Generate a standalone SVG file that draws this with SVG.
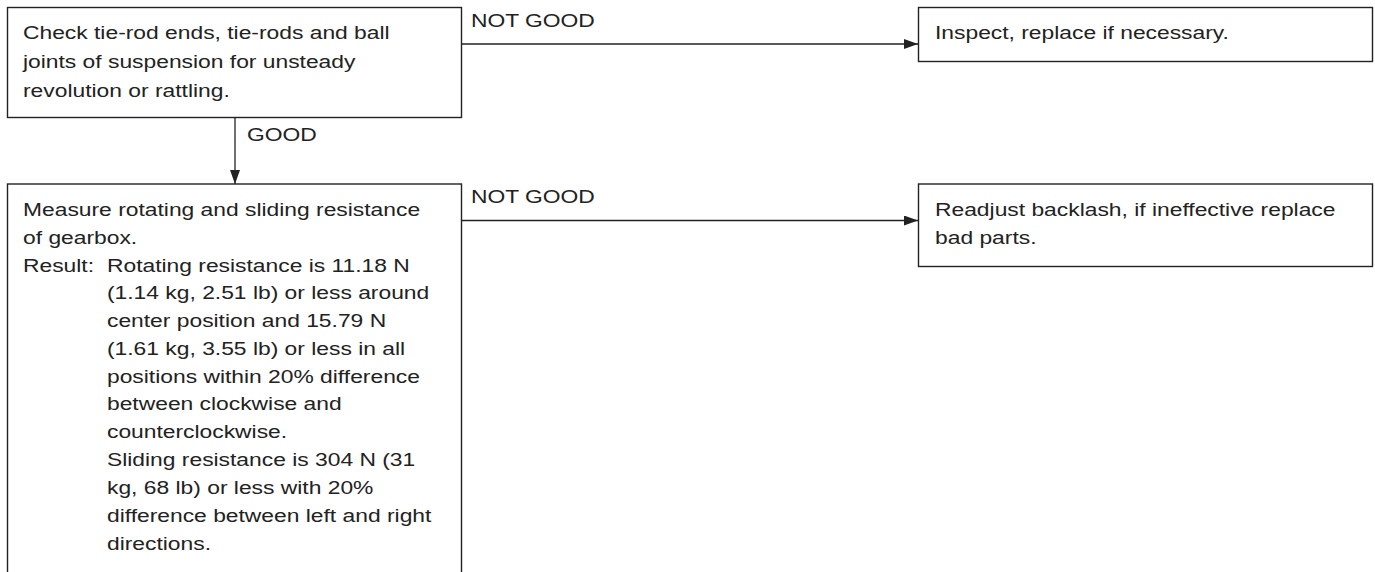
<svg xmlns="http://www.w3.org/2000/svg" width="1375" height="572" viewBox="0 0 1375 572">
<style>
.box{fill:#fff;stroke:#222;stroke-width:1.4}
.t{font-family:"Liberation Sans",Arial,sans-serif;font-size:18.5px;fill:#222}
.c{stroke:#222;stroke-width:1.3;fill:none}
</style>
<defs>
<marker id="ah" markerWidth="14" markerHeight="10" refX="14" refY="5" orient="auto" markerUnits="userSpaceOnUse">
<path d="M0,0 L14,5 L0,10 Z" fill="#222"/>
</marker>
</defs>
<rect width="1375" height="572" fill="#fff"/>
<g id="n1">
<rect class="box" x="7.5" y="7.5" width="454" height="110"/>
<g transform="translate(23 0) scale(1.235 1)">
<text class="t" x="0" y="39">Check tie-rod ends, tie-rods and ball</text>
<text class="t" x="0" y="68">joints of suspension for unsteady</text>
<text class="t" x="0" y="97">revolution or rattling.</text>
</g>
</g>
<g id="n2">
<rect class="box" x="918.5" y="7.5" width="454" height="54"/>
<g transform="translate(935 0) scale(1.235 1)">
<text class="t" x="0" y="39">Inspect, replace if necessary.</text>
</g>
</g>
<g id="n3">
<rect class="box" x="7.5" y="184" width="454" height="400"/>
<g transform="translate(23 0) scale(1.235 1)">
<text class="t" x="0" y="216">Measure rotating and sliding resistance</text>
<text class="t" x="0" y="244">of gearbox.</text>
<text class="t" x="0" y="272">Result:</text>
<text class="t" x="68" y="272">Rotating resistance is 11.18 N</text>
<text class="t" x="68" y="299.5">(1.14 kg, 2.51 lb) or less around</text>
<text class="t" x="68" y="327">center position and 15.79 N</text>
<text class="t" x="68" y="355">(1.61 kg, 3.55 lb) or less in all</text>
<text class="t" x="68" y="383">positions within 20% difference</text>
<text class="t" x="68" y="410.5">between clockwise and</text>
<text class="t" x="68" y="438.5">counterclockwise.</text>
<text class="t" x="68" y="466.5">Sliding resistance is 304 N (31</text>
<text class="t" x="68" y="494.5">kg, 68 lb) or less with 20%</text>
<text class="t" x="68" y="522.5">difference between left and right</text>
<text class="t" x="68" y="550">directions.</text>
</g>
</g>
<g id="n4">
<rect class="box" x="918.5" y="184" width="454" height="82.5"/>
<g transform="translate(935 0) scale(1.235 1)">
<text class="t" x="0" y="216">Readjust backlash, if ineffective replace</text>
<text class="t" x="0" y="244">bad parts.</text>
</g>
</g>
<g id="connectors">
<line class="c" x1="461.5" y1="44" x2="918" y2="44" marker-end="url(#ah)"/>
<line class="c" x1="235" y1="117.5" x2="235" y2="184" marker-end="url(#ah)"/>
<line class="c" x1="461.5" y1="220.5" x2="918" y2="220.5" marker-end="url(#ah)"/>
<g transform="translate(471 0) scale(1.235 1)">
<text class="t" x="0" y="27">NOT GOOD</text>
<text class="t" x="0" y="203">NOT GOOD</text>
</g>
<g transform="translate(247 0) scale(1.235 1)">
<text class="t" x="0" y="141.5">GOOD</text>
</g>
</g>
</svg>
